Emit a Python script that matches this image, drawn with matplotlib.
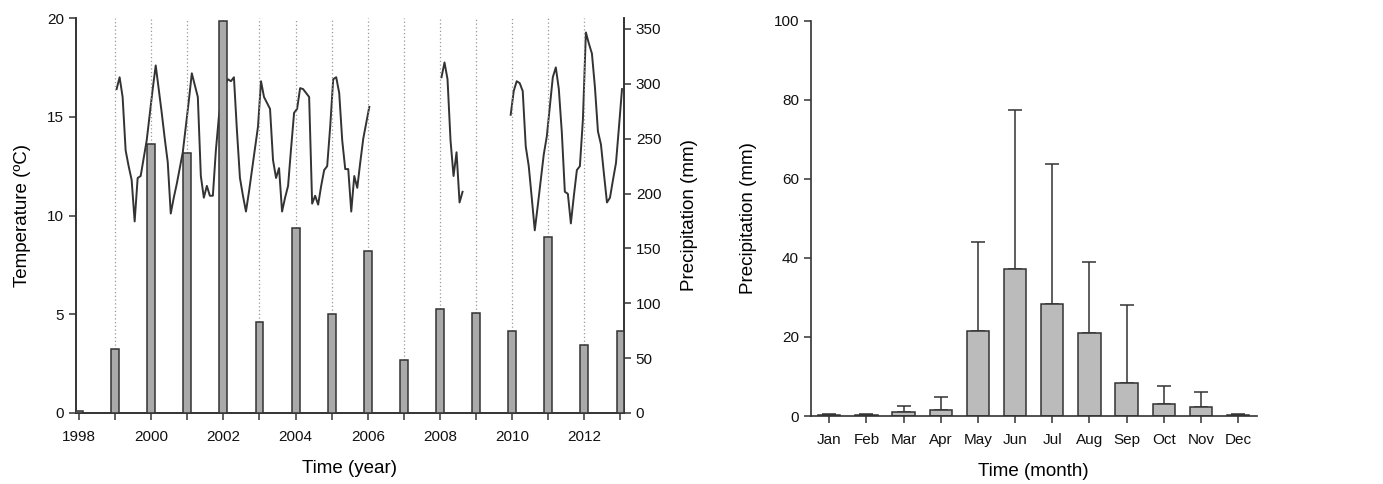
"""Annual precipitation with monthly temperature, and mean monthly precipitation."""

import matplotlib
matplotlib.use("Agg")
import matplotlib.pyplot as plt
import numpy as np

# Annual precipitation (mm), bars in the left panel.
years = list(range(1998, 2014))
annual_precip = [2, 58, 245, 237, 357, 83, 169, 90, 148, 48, 95, 91, 75, 160, 62, 75]

# Monthly mean temperature (degC), three runs of monthly values.
temp_jan1999_jan2006 = [
    16.4, 17.0, 16.0, 13.3, 12.5, 11.8, 9.7, 11.9, 12.0, 12.9, 13.8, 15.1,
    16.4, 17.6, 16.4, 15.2, 13.9, 12.7, 10.1, 10.9, 11.6, 12.4, 13.2, 14.5,
    15.8, 17.2, 16.6, 16.0, 12.0, 10.9, 11.5, 11.0, 11.0, 13.3, 15.0, 16.0,
    16.6, 16.9, 16.8, 17.0, 14.3, 11.9, 11.0, 10.2, 11.2, 12.3, 13.4, 14.5,
    16.8, 16.0, 15.7, 15.4, 12.8, 11.9, 12.4, 10.2, 10.9, 11.5, 13.4, 15.2,
    15.4, 16.45, 16.4, 16.2, 16.0, 10.6, 11.0, 10.55, 11.5, 12.3, 12.5, 14.5,
    16.9, 17.0, 16.2, 13.8, 12.35, 12.35, 10.2, 12.0, 11.4, 12.7, 13.9, 14.7,
    15.5,
]
temp_jan2008_aug2008 = [17.0, 17.75, 16.9, 13.8, 12.0, 13.2, 10.66, 11.2]
temp_dec2009_jan2013 = [
    15.1, 16.3, 16.8, 16.7, 16.3, 13.5, 12.5, 10.9, 9.25, 10.5, 11.8, 13.1,
    14.0, 15.5, 17.0, 17.5, 16.4, 14.2, 11.2, 11.1, 9.6, 11.0, 12.3, 12.5,
    14.85, 19.27, 18.7, 18.2, 16.5, 14.26, 13.6, 12.1, 10.66, 10.9, 11.8, 12.66,
    14.5, 16.4,
]

# Mean monthly precipitation (mm) with upper error (mm).
months = ["Jan", "Feb", "Mar", "Apr", "May", "Jun",
          "Jul", "Aug", "Sep", "Oct", "Nov", "Dec"]
monthly_precip = [0.3, 0.3, 0.9, 1.45, 21.5, 37.3, 28.3, 21.1, 8.4, 3.1, 2.2, 0.3]
monthly_err = [0.2, 0.2, 1.7, 3.35, 22.4, 40.1, 35.4, 17.9, 19.8, 4.5, 3.8, 0.2]

plt.rcParams["font.family"] = ["Liberation Sans", "DejaVu Sans"]
DARK = "#333333"
W, H = 1383, 484
TICK_FS = 11
LABEL_FS = 13.5


def monthly_time(start_year, start_month, values):
    """Decimal-year positions (mid-month) for a run of monthly values."""
    return start_year + (start_month - 0.5 + np.arange(len(values))) / 12.0


def style_axis(ax):
    for side in ("left", "bottom", "right", "top"):
        ax.spines[side].set_color(DARK)
        ax.spines[side].set_linewidth(1.2)
    ax.tick_params(direction="out", length=5, width=1.1, color=DARK,
                   labelsize=TICK_FS, labelcolor="#111111")
    ax.tick_params(axis="x", pad=7)


fig = plt.figure(figsize=(W / 100, H / 100), dpi=100)

# Left panel: temperature line with annual precipitation bars.
ax1 = fig.add_axes([76 / W, 1 - 413 / H, 548 / W, 395 / H])
ax2 = ax1.twinx()
for ax in (ax1, ax2):
    style_axis(ax)
    ax.spines["top"].set_visible(False)

for start_year, start_month, values in ((1999, 1, temp_jan1999_jan2006),
                                        (2008, 1, temp_jan2008_aug2008),
                                        (2009, 12, temp_dec2009_jan2013)):
    ax1.plot(monthly_time(start_year, start_month, values), values,
             color=DARK, lw=1.4)

ax2.bar(years, annual_precip, width=0.22, color="#aaaaaa",
        edgecolor=DARK, linewidth=1.1, zorder=3)
for yr, p in zip(years, annual_precip):
    if 1999 <= yr <= 2012:
        ax2.vlines(yr, p, 360, colors="#999999", linestyles=(0, (1, 2)),
                   linewidth=0.9, zorder=1)

ax1.set_xlim(1997.917, 2013.097)
ax1.set_ylim(0, 20)
ax2.set_ylim(0, 360)
ax1.set_xticks(range(1998, 2014, 2))
ax1.set_xticks(range(1999, 2014, 2), minor=True)
ax1.tick_params(which="minor", direction="out", length=5, width=1.1, color=DARK)
ax1.set_yticks([0, 5, 10, 15, 20])
ax2.set_yticks(range(0, 351, 50))
ax1.set_ylabel("Temperature (ºC)", fontsize=LABEL_FS, labelpad=12)
ax2.set_ylabel("Precipitation (mm)", fontsize=LABEL_FS, labelpad=14)
ax1.set_xlabel("Time (year)", fontsize=LABEL_FS, labelpad=12)

# Right panel: mean monthly precipitation.
ax3 = fig.add_axes([810.7 / W, 1 - 416 / H, 446 / W, 395.3 / H])
style_axis(ax3)
ax3.spines["top"].set_visible(False)
ax3.spines["right"].set_visible(False)
x = np.arange(len(months))
ax3.bar(x, monthly_precip, width=0.6, color="#bbbbbb", edgecolor=DARK,
        linewidth=1.1, zorder=2)
ax3.errorbar(x, monthly_precip, yerr=[np.zeros(len(x)), monthly_err],
             fmt="none", ecolor=DARK, elinewidth=1.1, capsize=5,
             capthick=1.1, zorder=1)
ax3.set_xlim(-0.5, 11.5)
ax3.set_ylim(0, 100)
ax3.set_xticks(x)
ax3.set_xticklabels(months)
ax3.set_yticks(range(0, 101, 20))
ax3.set_ylabel("Precipitation (mm)", fontsize=LABEL_FS, labelpad=12)
ax3.set_xlabel("Time (month)", fontsize=LABEL_FS, labelpad=12)

fig.savefig("out.png", dpi=100)
